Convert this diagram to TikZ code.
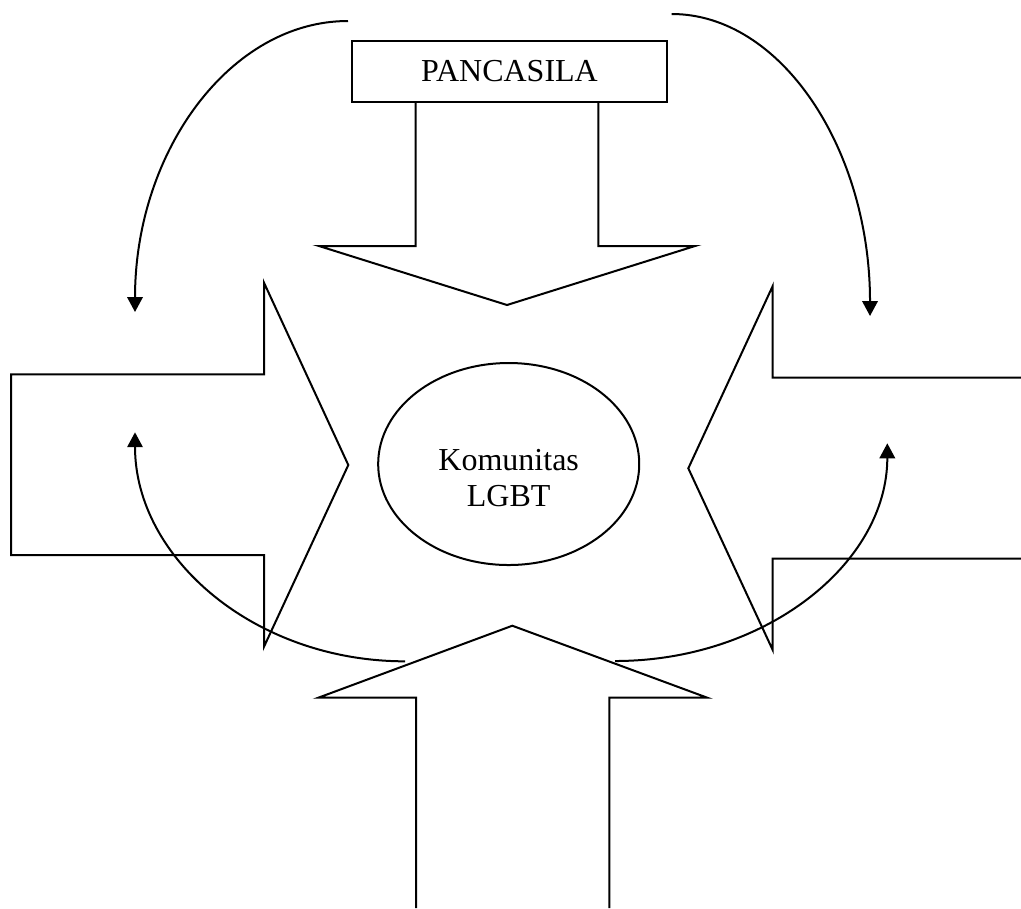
\documentclass[tikz,border=0pt]{standalone}
\usepackage{fontspec}
\setmainfont{Liberation Serif}
\usetikzlibrary{arrows.meta,shapes.geometric}

\tikzset{
	outline/.style={draw=black, line width=0.75pt, line join=miter},
	bend arrow/.style={draw=black, line width=0.75pt, -{Triangle[length=5.6pt,width=5.8pt]}},
	txt/.style={font=\fontsize{12}{13.8}\selectfont}
}

\begin{document}
\begin{tikzpicture}[x=0.375pt, y=-0.375pt]
		\useasboundingbox (0,0) rectangle (1021,908);
		\node[outline, txt, minimum width=118.1pt, minimum height=22.9pt, inner sep=0pt] (pancasila) at (509.5,71.5) {PANCASILA};
		\node[outline, ellipse, minimum width=97.9pt, minimum height=75.75pt, inner sep=0pt,
			label={[txt, align=center, yshift=-5.25pt]center:Komunitas\\LGBT}] (lgbt) at (508.7,464) {};
		\draw[outline] (415.7,102) -- (415.7,246) -- (319,246) -- (507,305) -- (695,246) -- (598.3,246) -- (598.3,102);
		\draw[outline] (11,374.3) -- (264,374.3) -- (264,282.7) -- (348.3,465) -- (264,646.7) -- (264,555) -- (11,555) -- cycle;
		\draw[outline] (1021,377.7) -- (772.7,377.7) -- (772.7,286) -- (688.3,468.3) -- (772.7,650) -- (772.7,558.7) -- (1021,558.7);
		\draw[outline] (416,908) -- (416,697.7) -- (318.3,697.7) -- (512.3,625.7) -- (707.3,697.7) -- (609.3,697.7) -- (609.3,908);
		\coordinate (tlS) at (348,21);
		\coordinate (tlE) at (135,312);
		\coordinate (trS) at (671.7,14);
		\coordinate (trE) at (870,316);
		\coordinate (blS) at (405,661.3);
		\coordinate (blE) at (135,432.3);
		\coordinate (brS) at (615,661);
		\coordinate (brE) at (887.3,443.3);
		\draw[bend arrow] (tlS) .. controls (230.4,21) and (135,151.3) .. (tlE);
		\draw[bend arrow] (trS) .. controls (781.2,14) and (870,149.2) .. (trE);
		\draw[bend arrow] (blS) .. controls (255.9,661.3) and (135,558.8) .. (blE);
		\draw[bend arrow] (brS) .. controls (765.4,661) and (887.3,563.5) .. (brE);
	\end{tikzpicture}
\end{document}
